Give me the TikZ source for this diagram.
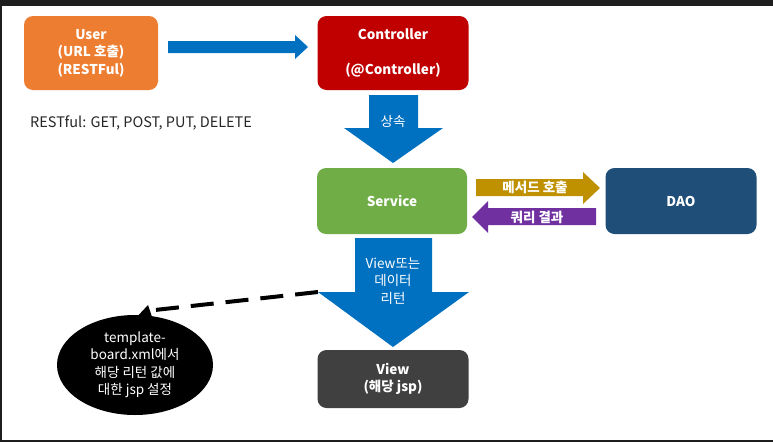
\documentclass[tikz,border=0pt]{standalone}
\usepackage{fontspec}
\setmainfont{Noto Sans CJK KR}
\usetikzlibrary{shapes.geometric}
\definecolor{userorange}{HTML}{ED7D31}
\definecolor{ctrlred}{HTML}{C00000}
\definecolor{svcgreen}{HTML}{70AD47}
\definecolor{daoblue}{HTML}{1F4E79}
\definecolor{viewgray}{HTML}{404040}
\definecolor{flowblue}{HTML}{0070C0}
\definecolor{callgold}{HTML}{BF9000}
\definecolor{resultpurple}{HTML}{7030A0}
\definecolor{framegray}{HTML}{1E1E1E}
\tikzset{box/.style={rounded corners=9pt, text=white, align=center,
    inner sep=0pt, font=\fontsize{13.5}{17.5}\selectfont\bfseries},
  label text/.style={text=white, align=center, inner sep=0pt,
    font=\fontsize{13.5}{17.5}\selectfont}}

\begin{document}
\begin{tikzpicture}[x=1pt,y=-1pt]
      \useasboundingbox (0,0) rectangle (773,442);
      % window frame
      \fill[white] (0,0) rectangle (773,442);
      \fill[framegray] (0,0) rectangle (773,6);
      \fill[framegray] (0,0) rectangle (2,442);
      \fill[framegray] (0,440) rectangle (773,442);

      % boxes
      \node[box, fill=userorange, minimum width=134pt, minimum height=74pt] (user) at (91,53) {User\\(URL 호출)\\(RESTFul)};
      \node[box, fill=ctrlred, minimum width=151pt, minimum height=74pt] (controller) at (393,53) {Controller\\ \\(@Controller)};
      \node[box, fill=svcgreen, minimum width=150pt, minimum height=66pt] (service) at (392,201) {Service};
      \node[box, fill=daoblue, minimum width=151pt, minimum height=66pt] (dao) at (681,201) {DAO};
      \node[box, fill=viewgray, minimum width=151pt, minimum height=58pt] (view) at (393,379) {View\\(해당 jsp)};

      \node[text=black!85, inner sep=0pt, font=\fontsize{14.5}{16}\selectfont, anchor=west] (rest) at (30,123) {RESTful: GET, POST, PUT, DELETE};

      % block arrows
      \fill[flowblue] (168,41) -- (295,41) -- (295,35) -- (308,47) -- (295,59) -- (295,53) -- (168,53) -- cycle;
      \fill[flowblue] (369,95) -- (418,95) -- (418,128) -- (443,128) -- (393,163) -- (344,128) -- (369,128) -- cycle;
      \fill[callgold] (476,179) -- (583,179) -- (583,172) -- (600,188) -- (583,204) -- (583,196) -- (476,196) -- cycle;
      \fill[resultpurple] (596,208) -- (488,208) -- (488,201) -- (472,217) -- (488,233) -- (488,225) -- (596,225) -- cycle;
      \fill[flowblue] (355,238) -- (432,238) -- (432,292) -- (469,292) -- (393,347) -- (318,292) -- (355,292) -- cycle;

      \node[label text] (inherit) at (393,121) {상속};
      \node[label text, font=\fontsize{13.5}{17.5}\selectfont\bfseries] (call) at (535,187) {메서드 호출};
      \node[label text, font=\fontsize{13.5}{17.5}\selectfont\bfseries] (result) at (537,217) {쿼리 결과};
      \node[label text] (ret) at (393,281) {View또는\\데이터\\리턴};

      % speech bubble
      \node[ellipse, fill=black, text=white, align=center, inner sep=0pt,
        minimum width=156pt, minimum height=100pt,
        font=\fontsize{13.5}{17.5}\selectfont] (bubble) at (135,365)
        {template-\\board.xml에서\\해당 리턴 값에\\대한 jsp 설정};
      \coordinate (tail) at (148,305);
      \fill[black] (134,320) -- (tail) -- (153,320) -- cycle;
      \coordinate (corner) at (318,292);
      \draw[black, line width=4pt, dash pattern=on 23pt off 12pt] (corner) -- (155,310);
    \end{tikzpicture}
\end{document}
